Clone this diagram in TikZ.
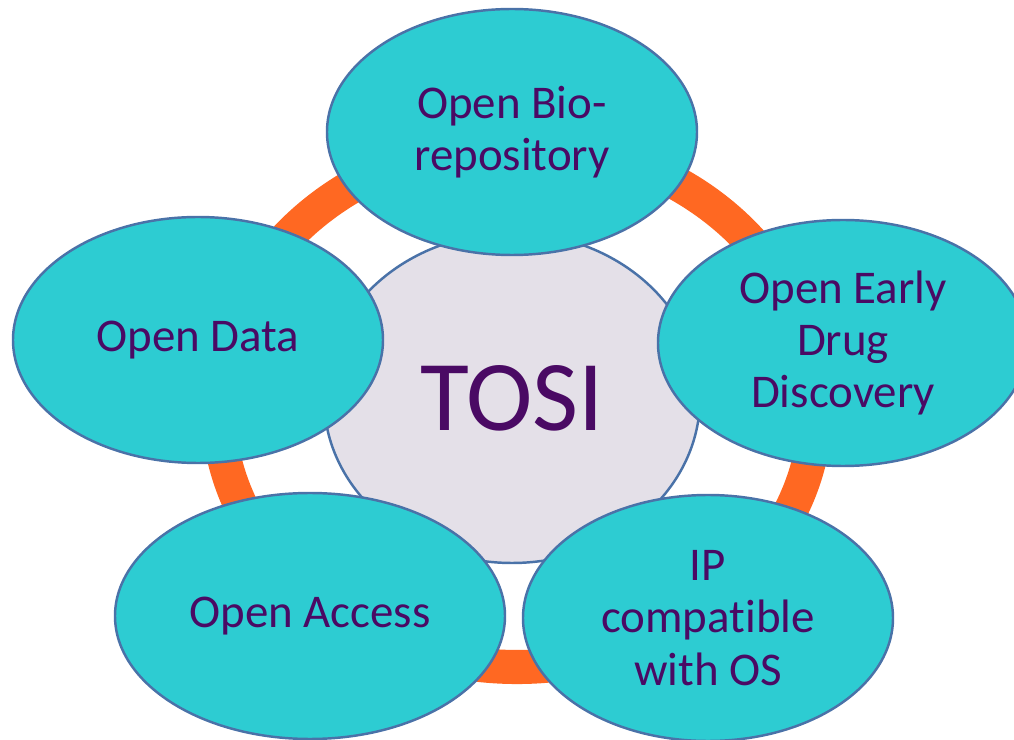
\documentclass[tikz,border=0pt]{standalone}
\usepackage{fontspec}
\setmainfont{Carlito}[Ligatures=NoCommon]
\usepackage{tikz}
\usetikzlibrary{shapes.geometric}
\definecolor{Teal}{HTML}{2DCCD2}
\definecolor{Rim}{HTML}{4A72A8}
\definecolor{Lilac}{HTML}{E4E0E8}
\definecolor{Ember}{HTML}{FF6822}
\definecolor{Plum}{HTML}{4A0A64}

\begin{document}
\begin{tikzpicture}[
    pillar/.style={ellipse,draw=Rim,line width=1.4pt,fill=Teal,text=Plum,
      minimum width=7.4cm,minimum height=4.92cm,inner sep=0pt,align=center,
      font=\fontsize{26.7}{29.8}\selectfont},
    hub/.style={ellipse,draw=Rim,line width=1.4pt,fill=Lilac,text=Plum,
      minimum width=7.52cm,minimum height=6.6cm,inner sep=0pt,
      font=\fontsize{57}{60}\selectfont},
    band/.style={draw=Ember,line width=19.4pt}]
      \clip (0,0) rectangle (20.28,14.8);
      % orange loop behind everything
      \draw[band] (10.34,6.70) ellipse [x radius=5.98cm,y radius=5.24cm];
      \node[hub] (tosi) at (10.24,6.84) {TOSI};
      % the five pillars
      \node[pillar] (bio) at (10.24,12.16) {Open Bio-\\repository};
      \node[pillar] (data) at (3.96,8.0) {Open Data};
      \node[pillar] (drug) at (16.86,7.94) {Open Early\\Drug\\Discovery};
      \node[pillar,minimum width=7.8cm] (access) at (6.2,2.48) {Open Access};
      \node[pillar] (ipos) at (14.16,2.44) {IP\\compatible\\with OS};
    \end{tikzpicture}
\end{document}
